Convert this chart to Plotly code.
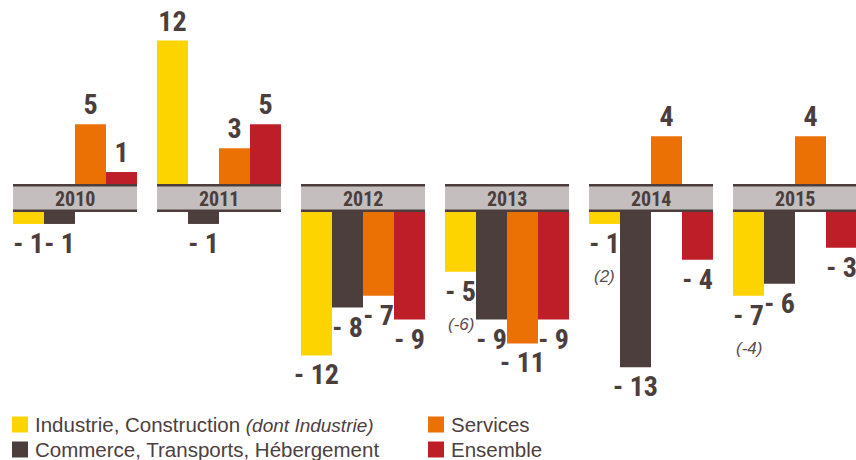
import plotly.graph_objects as go
from plotly.subplots import make_subplots

annees = ['2010', '2011', '2012', '2013', '2014', '2015']
industrie = [-1, 12, -12, -5, -1, -7]
commerce = [-1, -1, -8, -9, -13, -6]
services = [5, 3, -7, -11, 4, 4]
ensemble = [1, 5, -9, -9, -4, -3]
# chiffre entre parenthèses : dont Industrie
dont_industrie = [None, None, None, -6, 2, -4]

noms = ['Industrie, Construction <i><span style="font-size:19px">(dont Industrie)</span></i>',
        'Commerce, Transports, Hébergement', 'Services', 'Ensemble']
couleurs = ['#fdd400', '#4b3e3d', '#ec7105', '#be1e27']

DARK = '#4b3e3d'
GRIS = '#c4bebe'
COND = 'Roboto Condensed, Liberation Sans Narrow, Liberation Sans, Arial, sans-serif'
SANS = 'Liberation Sans, Arial, sans-serif'

W, HF = 856, 460
H = 400                 # hauteur de la zone de tracé
s = 11.95               # px par point
haut_bas = 184          # bas des barres positives
bande_bas = 212         # haut des barres négatives


def py(y):  # px -> paper y
    return (H - y) / H


def px(x):  # px -> paper x
    return x / W


fig = make_subplots(rows=2, cols=1, shared_xaxes=True)
xs = list(range(len(annees)))


def lbl(v):
    if v is None:
        return ''
    return f'<b>{v}</b>' if v > 0 else f'<b>- {abs(v)}</b>'


for vals, nom, c in zip([industrie, commerce, services, ensemble], noms, couleurs):
    pos = [v if v > 0 else None for v in vals]
    neg = [v if v < 0 else None for v in vals]
    for row, part in [(1, pos), (2, neg)]:
        fig.add_trace(go.Bar(
            x=xs, y=part, name=nom, marker_color=c, marker_line_width=0,
            text=[lbl(v) for v in part], textposition='outside',
            cliponaxis=False, constraintext='none',
            textfont=dict(family=COND, size=28, color=DARK),
            showlegend=False, hoverinfo='skip'
        ), row=row, col=1)

c0 = 75
fig.update_xaxes(range=[-c0 / 144, (W - c0) / 144], visible=False, fixedrange=True)
fig.update_layout(
    yaxis=dict(domain=[1 - haut_bas / H, 1], range=[0, haut_bas / s], visible=False),
    yaxis2=dict(domain=[0, 1 - bande_bas / H], range=[-(H - bande_bas) / s, 0], visible=False),
)

demi = 124 / 144 / 2
y_top = py(184)
y_bot = py(212)
for i, a in enumerate(annees):
    fig.add_shape(type='rect', xref='x', yref='paper', x0=i - demi, x1=i + demi,
                  y0=y_bot, y1=y_top, fillcolor=GRIS, line_width=0, layer='below')
    for yy in [py(185.3), py(210.8)]:
        fig.add_shape(type='line', xref='x', yref='paper', x0=i - demi, x1=i + demi,
                      y0=yy, y1=yy, line=dict(color=DARK, width=2.5))
    fig.add_annotation(x=i, xref='x', y=py(199), yref='paper', text=f'<b>{a}</b>',
                       showarrow=False, font=dict(family=COND, size=20, color=DARK))

# valeurs "dont Industrie"
off_jaune = -1.5 * (1 - 20 / 144) / 4
for i, v in enumerate(dont_industrie):
    if v is None:
        continue
    fig.add_annotation(x=i + off_jaune, xref='x2', y=min(industrie[i], 0), yref='y2',
                       yanchor='top', yshift=-41, text=f'<i>({v})</i>', showarrow=False,
                       font=dict(family=SANS, size=17, color='#5a4d4c'))

# légende
leg = [(12, 424.5, 0), (12, 449.5, 1), (428, 424.5, 2), (428, 449.5, 3)]
for x0, yc, k in leg:
    fig.add_shape(type='rect', xref='paper', yref='paper',
                  x0=px(x0), x1=px(x0 + 16),
                  y0=py(yc + 8), y1=py(yc - 8),
                  fillcolor=couleurs[k], line_width=0)
    fig.add_annotation(x=px(x0 + 21), xref='paper', y=py(yc), yref='paper',
                       xanchor='left', yanchor='middle', text=noms[k], showarrow=False,
                       font=dict(family=SANS, size=20.5, color='#4d4040'))

fig.update_layout(
    width=W, height=HF,
    margin=dict(l=0, r=0, t=0, b=HF - H),
    barmode='group', bargap=20 / 144, bargroupgap=0,
    paper_bgcolor='white', plot_bgcolor='white',
    showlegend=False,
)

# pas de marge de page autour du graphique
fig.write_html('out.html', config={'displayModeBar': False},
               post_script="document.body.style.margin='0';document.body.style.overflow='hidden';")
